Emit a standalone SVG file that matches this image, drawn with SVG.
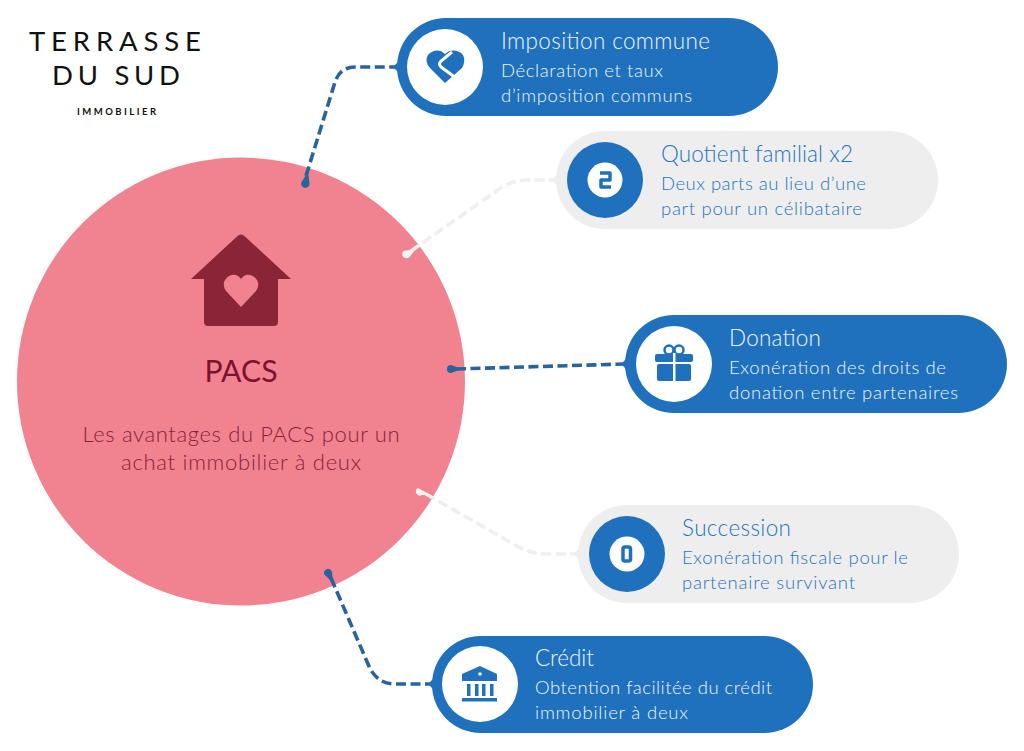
<svg xmlns="http://www.w3.org/2000/svg" width="1024" height="751" viewBox="0 0 1024 751">
<style>
.t{font-family:"Lato","Open Sans",sans-serif;font-weight:300}
.h{font-size:22.5px}.s{font-size:18.500px}
.w{fill:#f0f7fd}.b{fill:#2375c0}
.logo{font-family:"Lato",sans-serif;fill:#111;text-anchor:middle}
.c{fill:none;stroke-width:3.600;stroke-dasharray:10 4.500}
.cb{stroke:#27639f}.cg{stroke:#efefef}
</style>
<rect width="1024" height="751" fill="#fff"/>
<g id="logo">
<text class="logo" x="115" y="51" font-size="27.500" textLength="172" lengthAdjust="spacing">TERRASSE</text>
<text class="logo" x="116" y="85" font-size="27.500" textLength="128" lengthAdjust="spacing">DU SUD</text>
<text class="logo" x="116.500" y="115" font-size="9.500" font-weight="700" textLength="79" lengthAdjust="spacing">IMMOBILIER</text>
</g>
<g id="center">
<circle cx="241" cy="381.500" r="224" fill="#f0838f"/>
<path d="M241 234.500Q243 234.500 245 236.500L291 279H278V322Q278 326 274 326H208Q204 326 204 322V279H191L237 236.500Q239 234.500 241 234.500Z" fill="#8a2537"/>
<path d="M241 307L226 291Q222 285 225 280Q229 274 236 275Q239 276 241 279Q243 276 246 275Q253 274 257 280Q260 285 256 291Z" fill="#f0838f"/>
<text x="241" y="382" text-anchor="middle" font-family="Lato,sans-serif" font-size="30" fill="#7d1230" textLength="73" lengthAdjust="spacingAndGlyphs">PACS</text>
<text class="t" x="241" y="442" text-anchor="middle" font-size="22" fill="#8a1f3a" textLength="317">Les avantages du PACS pour un</text>
<text class="t" x="241" y="470" text-anchor="middle" font-size="22" fill="#8a1f3a" textLength="240">achat immobilier à deux</text>
</g>
<g id="connectors">
<path class="c cb" d="M306 176L335 82Q340 67 355 67H397"/>
<path class="c cg" d="M411 251L495 192Q510 180 528 180H556"/>
<path class="c cb" d="M456 369L625 364"/>
<path class="c cg" d="M426 494L510 542Q528 554 546 554H578"/>
<path class="c cb" d="M331 578L368 664Q376 684 395 684H432"/>
<path d="M301.500 182a4.200 4.200 0 1 0 8 1L308 172Z" fill="#27639f"/>
<path d="M403.500 251a4 4 0 1 0 6 6L416 249Z" fill="#f4f4f4"/>
<path d="M451 365a4 4 0 0 0 0 8L462 369Z" fill="#27639f"/>
<path d="M418 488a4 4 0 1 0 4 7L431 495Z" fill="#f4f4f4"/>
<path d="M324 574a4 4 0 1 1 8 -2L333 583Z" fill="#27639f"/>
</g>
<g id="imposition">
<rect x="397" y="18" width="381" height="98" rx="49" fill="#1f70bd"/>
<path d="M399 61L393 67L399 73Z" fill="#1f70bd"/>
<circle cx="445" cy="67" r="38" fill="#fff"/>
<path d="M445 83L430 68Q424 61 428 55Q433 49 441 51L445 54L449 51Q458 49 463 55Q466 61 462 68Z" fill="#1f70bd"/>
<path d="M452 52L441 61Q438 64 441 67L456 78" fill="none" stroke="#fff" stroke-width="3"/>
<text class="t h w" x="501" y="49" textLength="209">Imposition commune</text>
<text class="t s w" x="501" y="77" textLength="162">Déclaration et taux</text>
<text class="t s w" x="501" y="102" textLength="191">d’imposition communs</text>
</g>
<g id="quotient">
<rect x="556" y="131" width="382" height="98" rx="49" fill="#eeeeee"/>
<path d="M558 174L552 180L558 186Z" fill="#eeeeee"/>
<circle cx="605" cy="180" r="38" fill="#1f70bd"/>
<circle cx="605" cy="180" r="17.500" fill="#fff"/>
<path d="M600 173H610V180H601V187H611" fill="none" stroke="#1f70bd" stroke-width="3.500" stroke-linejoin="round"/>
<text class="t h b" x="661" y="162" textLength="192">Quotient familial x2</text>
<text class="t s b" x="661" y="190" textLength="205">Deux parts au lieu d’une</text>
<text class="t s b" x="661" y="215" textLength="201">part pour un célibataire</text>
</g>
<g id="donation">
<rect x="625" y="315" width="382" height="98" rx="49" fill="#1f70bd"/>
<path d="M627 358L621 364L627 370Z" fill="#1f70bd"/>
<circle cx="674" cy="364" r="38" fill="#fff"/>
<circle cx="669" cy="350" r="4.500" fill="none" stroke="#1f70bd" stroke-width="2.500"/>
<circle cx="679" cy="350" r="4.500" fill="none" stroke="#1f70bd" stroke-width="2.500"/>
<rect x="655" y="354" width="38" height="8" rx="2" fill="#1f70bd"/>
<rect x="657" y="364" width="34" height="17" rx="2" fill="#1f70bd"/>
<rect x="673" y="353" width="2.500" height="28" fill="#fff"/>
<text class="t h w" x="729" y="346" textLength="92">Donation</text>
<text class="t s w" x="729" y="374" textLength="217">Exonération des droits de</text>
<text class="t s w" x="729" y="399" textLength="229">donation entre partenaires</text>
</g>
<g id="succession">
<rect x="578" y="505" width="381" height="98" rx="49" fill="#eeeeee"/>
<path d="M580 548L574 554L580 560Z" fill="#eeeeee"/>
<circle cx="627" cy="554" r="38" fill="#1f70bd"/>
<circle cx="627" cy="554" r="17.500" fill="#fff"/>
<rect x="623" y="547" width="7.500" height="14" rx="2" fill="none" stroke="#1f70bd" stroke-width="3.500"/>
<text class="t h b" x="682" y="536" textLength="109">Succession</text>
<text class="t s b" x="682" y="564" textLength="226">Exonération fiscale pour le</text>
<text class="t s b" x="682" y="589" textLength="173">partenaire survivant</text>
</g>
<g id="credit">
<rect x="432" y="636" width="381" height="97" rx="48.500" fill="#1f70bd"/>
<path d="M434 678L428 684L434 690Z" fill="#1f70bd"/>
<circle cx="480" cy="684" r="38" fill="#fff"/>
<path d="M462 681V674L480 666L497 674V681Z" fill="#1f70bd"/>
<circle cx="480" cy="674" r="1.800" fill="#fff"/>
<path d="M467 684h3.500v12h-3.500zM475 684h3.500v12h-3.500zM482 684h3.500v12h-3.500zM490 684h3.500v12h-3.500z" fill="#1f70bd"/>
<rect x="462" y="698" width="35" height="3.500" fill="#1f70bd"/>
<text class="t h w" x="535" y="666" textLength="59">Crédit</text>
<text class="t s w" x="535" y="694" textLength="237">Obtention facilitée du crédit</text>
<text class="t s w" x="535" y="719" textLength="153">immobilier à deux</text>
</g>
</svg>
